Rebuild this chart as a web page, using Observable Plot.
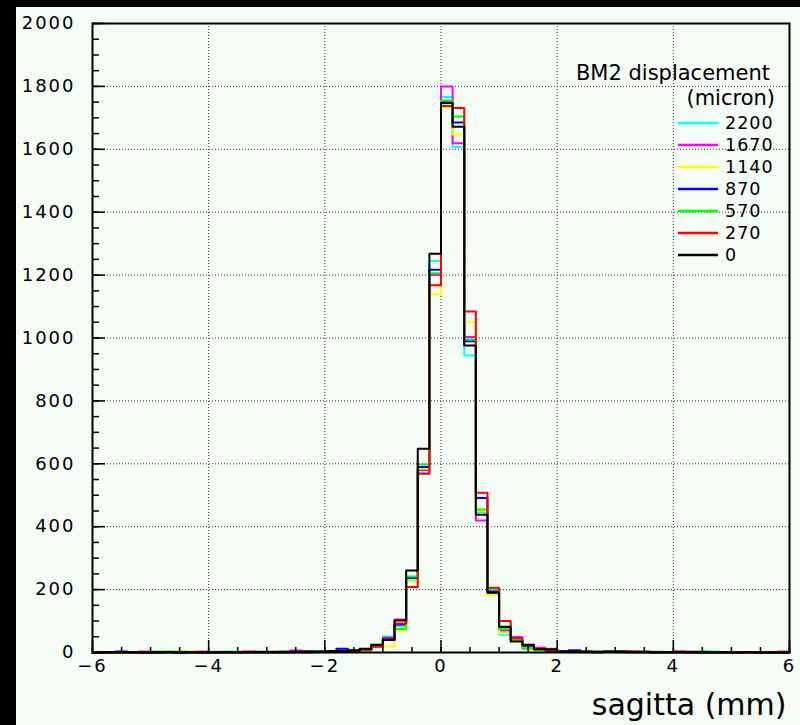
<!DOCTYPE html>
<html>
<head>
<meta charset="utf-8">
<script src="https://cdn.jsdelivr.net/npm/d3@7"></script>
<script src="https://cdn.jsdelivr.net/npm/@observablehq/plot@0.6"></script>
<style>
  html, body { margin: 0; padding: 0; background: #000; width: 800px; height: 725px; overflow: hidden; }
  #wrap { position: absolute; left: 16px; top: 7px; width: 784px; height: 718px; background: #f5fbf5; }
  #wrap svg { display: block; }
  #legend { position: absolute; left: 0; top: 0; }
  g[aria-label="y-axis tick label"] text,
  g[aria-label="x-axis tick label"] text { letter-spacing: 2px; }
</style>
</head>
<body>
<div id="wrap"></div>
<script>
// Sagitta histograms, 60 bins of 0.2 mm from -6 to 6 mm, one per BM2 displacement (micron)
const binStart = -6;
const binWidth = 0.2;

const displacements = ["2200", "1670", "1140", "870", "570", "270", "0"];
const lineColors = ["#00ffff", "#ff00ff", "#ffff00", "#0000ff", "#00ff00", "#ff0000", "#000000"];

const counts2200 = [
  1, 0, 0, 1, 0, 0, 1, 0, 0, 1,
  2, 3, 3, 1, 0, 1, 3, 1, 1, 0,
  1, 2, 4, 8, 22, 51, 84, 229, 572, 1245,
  1766, 1607, 944, 445, 190, 57, 40, 19, 8, 2,
  1, 1, 3, 2, 1, 1, 1, 2, 3, 1,
  1, 0, 3, 3, 1, 0, 1, 0, 0, 0
];
const counts1670 = [
  0, 0, 1, 0, 3, 0, 1, 0, 1, 3,
  0, 1, 0, 1, 1, 1, 0, 6, 5, 2,
  3, 6, 5, 7, 20, 47, 105, 237, 580, 1200,
  1800, 1619, 1003, 420, 192, 70, 49, 20, 15, 8,
  2, 7, 2, 1, 2, 1, 1, 2, 1, 1,
  3, 3, 1, 0, 1, 0, 1, 0, 1, 3
];
const counts1140 = [
  0, 0, 0, 1, 0, 1, 0, 1, 3, 0,
  1, 0, 0, 1, 0, 1, 0, 1, 1, 2,
  3, 4, 4, 9, 25, 19, 70, 225, 585, 1138,
  1735, 1647, 1050, 450, 183, 62, 40, 18, 5, 6,
  2, 1, 2, 1, 1, 2, 1, 0, 1, 0,
  0, 1, 0, 1, 0, 0, 0, 1, 0, 0
];
const counts870 = [
  0, 1, 3, 0, 0, 0, 1, 0, 0, 1,
  0, 0, 1, 1, 0, 1, 0, 1, 1, 2,
  4, 12, 8, 10, 22, 44, 89, 237, 590, 1217,
  1750, 1685, 990, 491, 195, 80, 42, 20, 10, 5,
  3, 6, 2, 1, 4, 2, 1, 1, 0, 1,
  0, 1, 0, 1, 0, 0, 1, 0, 0, 0
];
const counts570 = [
  0, 0, 0, 0, 0, 3, 3, 3, 0, 1,
  0, 0, 1, 0, 1, 0, 1, 0, 2, 1,
  3, 4, 6, 6, 20, 40, 75, 242, 598, 1206,
  1755, 1704, 995, 455, 200, 75, 40, 12, 8, 12,
  2, 1, 3, 1, 2, 1, 1, 0, 1, 0,
  1, 0, 3, 0, 0, 1, 0, 0, 0, 1
];
const counts270 = [
  1, 0, 0, 0, 1, 0, 1, 0, 0, 1,
  0, 1, 0, 3, 1, 0, 1, 2, 1, 2,
  3, 4, 5, 9, 18, 42, 92, 208, 568, 1168,
  1738, 1731, 1084, 508, 206, 100, 45, 22, 12, 6,
  2, 2, 1, 2, 2, 4, 3, 1, 0, 1,
  1, 0, 0, 1, 0, 1, 0, 0, 1, 0
];
const counts0 = [
  0, 1, 1, 1, 0, 1, 1, 0, 1, 0,
  1, 1, 1, 1, 2, 2, 2, 2, 3, 3,
  5, 5, 6, 12, 25, 40, 102, 261, 648, 1268,
  1747, 1672, 976, 438, 190, 82, 35, 25, 10, 10,
  4, 3, 3, 2, 2, 3, 2, 2, 1, 1,
  2, 1, 1, 0, 1, 0, 1, 0, 0, 0
];
const allCounts = [counts2200, counts1670, counts1140, counts870, counts570, counts270, counts0];

const xTicks = [-6, -4, -2, 0, 2, 4, 6];
const xMinorTicks = d3.range(-6, 6.001, 0.5);
const yTicks = [0, 200, 400, 600, 800, 1000, 1200, 1400, 1600, 1800, 2000];
const yMinorTicks = d3.range(0, 2001, 50);
const xGrid = [-4, -2, 0, 2, 4];
const yGrid = [200, 400, 600, 800, 1000, 1200, 1400, 1600, 1800];

// Step outline for each histogram: one point per bin edge, last bin repeated to close at x = 6
function outline(counts) {
  return [...counts, counts[counts.length - 1]].map((c, k) => ({x: binStart + k * binWidth, y: c}));
}

const histLines = allCounts.map((counts, i) =>
  Plot.line(outline(counts), {x: "x", y: "y", curve: "step-after", stroke: lineColors[i], strokeWidth: 2})
);

const chart = Plot.plot({
  width: 784,
  height: 718,
  marginLeft: 76,
  marginRight: 11,
  marginTop: 16,
  marginBottom: 73,
  style: {background: "transparent", color: "#000", fontFamily: "'DejaVu Sans', sans-serif"},
  x: {domain: [-6, 6]},
  y: {domain: [0, 2000]},
  marks: [
    Plot.gridX(xGrid, {stroke: "#333", strokeOpacity: 1, strokeDasharray: "1,2"}),
    Plot.gridY(yGrid, {stroke: "#333", strokeOpacity: 1, strokeDasharray: "1,2"}),
    ...histLines,
    Plot.frame({stroke: "#000", strokeWidth: 2}),
    Plot.axisX(xMinorTicks, {tickSize: -5, tickFormat: () => "", label: null, strokeWidth: 1.5}),
    Plot.axisX(xTicks, {tickSize: -12, tickPadding: 19, label: null, fontSize: 18, strokeWidth: 1.5}),
    Plot.axisY(yMinorTicks, {tickSize: -7, tickFormat: () => "", label: null, strokeWidth: 1.5}),
    Plot.axisY(yTicks, {tickSize: -13, tickPadding: 30, label: null, fontSize: 18, tickFormat: d3.format("d"), strokeWidth: 1.5}),
    Plot.text(["sagitta (mm)"], {frameAnchor: "bottom-right", text: d => d, textAnchor: "end", lineAnchor: "bottom", dx: -3, dy: 62, fontSize: 30})
  ]
});
document.getElementById("wrap").appendChild(chart);

// Legend: title and one line sample per displacement
const legend = d3.select("#wrap").append("svg")
  .attr("id", "legend")
  .attr("width", 784)
  .attr("height", 300)
  .style("font-family", "'DejaVu Sans', sans-serif");
legend.append("text").attr("x", 754).attr("y", 73).attr("text-anchor", "end")
  .attr("font-size", 21).text("BM2 displacement");
legend.append("text").attr("x", 759).attr("y", 98).attr("text-anchor", "end")
  .attr("font-size", 21).text("(micron)");
const entry = legend.selectAll("g.entry").data(displacements).join("g")
  .attr("class", "entry")
  .attr("transform", (d, i) => `translate(0,${116 + i * 22})`);
entry.append("line").attr("x1", 662).attr("x2", 702).attr("y1", 0).attr("y2", 0)
  .attr("stroke", (d, i) => lineColors[i]).attr("stroke-width", 2.5);
entry.append("text").attr("x", 709).attr("y", 0).attr("dy", "0.35em")
  .attr("font-size", 17.5).style("letter-spacing", "1px").text(d => d);
</script>
</body>
</html>
